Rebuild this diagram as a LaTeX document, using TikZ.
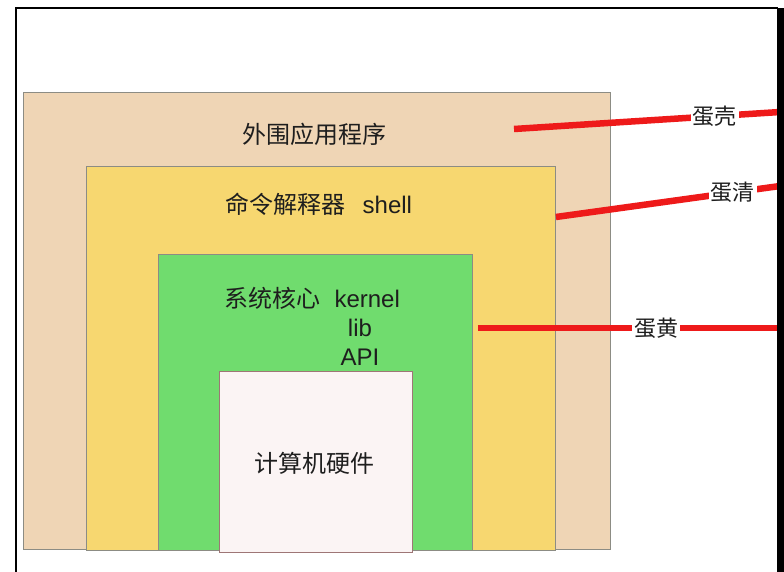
\documentclass[tikz,border=0pt]{standalone}
\usepackage{fontspec}
\setmainfont{Liberation Sans}
\newfontfamily\cjk{Noto Sans CJK SC}
\usepackage{xcolor}
\definecolor{shellbg}{HTML}{EFD5B5}
\definecolor{cmdbg}{HTML}{F7D770}
\definecolor{kernbg}{HTML}{70DC6E}
\definecolor{hwbg}{HTML}{FBF4F4}
\definecolor{hwline}{HTML}{9E7676}
\definecolor{boxline}{HTML}{8C8C84}
\definecolor{eggred}{HTML}{EE1A1A}
\definecolor{ink}{HTML}{1E1E1E}

\begin{document}
\begin{tikzpicture}[x=1pt,y=-1pt,
    layer/.style={draw=boxline, line width=0.9pt, anchor=north west, inner sep=0pt},
    big/.style={font=\fontsize{24}{29}\selectfont, text=ink, inner sep=0pt},
    eggline/.style={draw=eggred, line width=6.5pt},
    egg/.style={font=\cjk\fontsize{22}{26}\selectfont, text=ink, fill=white, inner sep=2pt}]

    \useasboundingbox (0,0) rectangle (784,572);

    % the four layers
    \node[layer, fill=shellbg, minimum width=587pt, minimum height=457pt] (shellbox) at (23,92) {};
    \node[layer, fill=cmdbg, minimum width=469pt, minimum height=384pt] (cmdbox) at (86,166) {};
    \node[layer, fill=kernbg, minimum width=314pt, minimum height=296pt] (kernbox) at (158,254) {};
    \node[layer, draw=hwline, fill=hwbg, minimum width=193pt, minimum height=181pt] (hwbox) at (219,371) {};

    \node[big] (shelltxt) at (314,134) {\cjk 外围应用程序};
    \node[big] (cmdtxt) at (319,204) {{\cjk 命令解释器}\hspace{0.7em}shell};
    \node[big] (kerntxt) at (312,298) {{\cjk 系统核心}\hspace{0.6em}kernel};
    \node[big] (libtxt) at (360,328) {lib};
    \node[big] (apitxt) at (360,357) {API};
    \node[big] (hwtxt) at (314,463) {\cjk 计算机硬件};

    % egg parts
    \coordinate (shellin) at (514,129);
    \coordinate (shellend) at (780,112);
    \coordinate (cmdend) at (780,186);
    \coordinate (kernend) at (780,328);

    \draw[eggline] (shellin) -- (shellend) node[egg, pos=0.755] (ke) {蛋壳};
    \draw[eggline] (cmdbox.east |- 0,217) -- (cmdend) node[egg, pos=0.79] (qing) {蛋清};
    \draw[eggline] ([xshift=5pt]kernbox.east |- 0,328) -- (kernend) node[egg, pos=0.59] (huang) {蛋黄};

    % frame
    \draw[line width=2pt] (16,572) -- (16,8) -- (778,8);
    \fill[black] (777,8) rectangle (784,572);
  \end{tikzpicture}
\end{document}
